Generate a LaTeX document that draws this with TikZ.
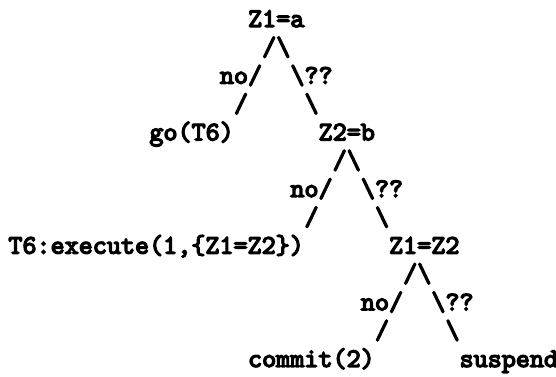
\documentclass[tikz,border=0pt]{standalone}
\usepackage{fontspec}
\setmonofont{lmmono10-regular}[Extension=.otf, AutoFakeBold=5]
\usepackage{tikz}

\begin{document}
\begin{tikzpicture}[
    x=7.05pt, y=-14.165pt,
    txt/.style ={inner sep=0pt, anchor=base west,
                 font=\fontsize{13.4}{16}\selectfont\ttfamily\bfseries},
  ]
    \useasboundingbox (-0.567,-0.953) rectangle (38.865,12.319);

    % --- first test: Z1=a ---
    \node[txt] (za)     at (17,0) {Z1=a};
    \node[txt] (zafork) at (18,1) {/\textbackslash};
    \node[txt] (zano)   at (15,2) {no/};
    \node[txt] (zaq)    at (20,2) {\textbackslash ??};
    \node[txt] (zal)    at (16,3) {/};
    \node[txt] (zar)    at (21,3) {\textbackslash};
    \node[txt] (go)     at (10,4) {go(T6)};

    % --- second test: Z2=b ---
    \node[txt] (zb)     at (22,4) {Z2=b};
    \node[txt] (zbfork) at (23,5) {/\textbackslash};
    \node[txt] (zbno)   at (20,6) {no/};
    \node[txt] (zbq)    at (25,6) {\textbackslash ??};
    \node[txt] (zbl)    at (21,7) {/};
    \node[txt] (zbr)    at (26,7) {\textbackslash};
    \node[txt] (exec)   at (0,8)  {T6:execute(1,\{Z1=Z2\})};

    % --- third test: Z1=Z2 ---
    \node[txt] (zc)     at (27,8)  {Z1=Z2};
    \node[txt] (zcfork) at (28,9)  {/\textbackslash};
    \node[txt] (zcno)   at (25,10) {no/};
    \node[txt] (zcq)    at (30,10) {\textbackslash ??};
    \node[txt] (zcl)    at (26,11) {/};
    \node[txt] (zcr)    at (31,11) {\textbackslash};
    \node[txt] (commit) at (17,12) {commit(2)};
    \node[txt] (susp)   at (32,12) {suspend};
  \end{tikzpicture}
\end{document}
